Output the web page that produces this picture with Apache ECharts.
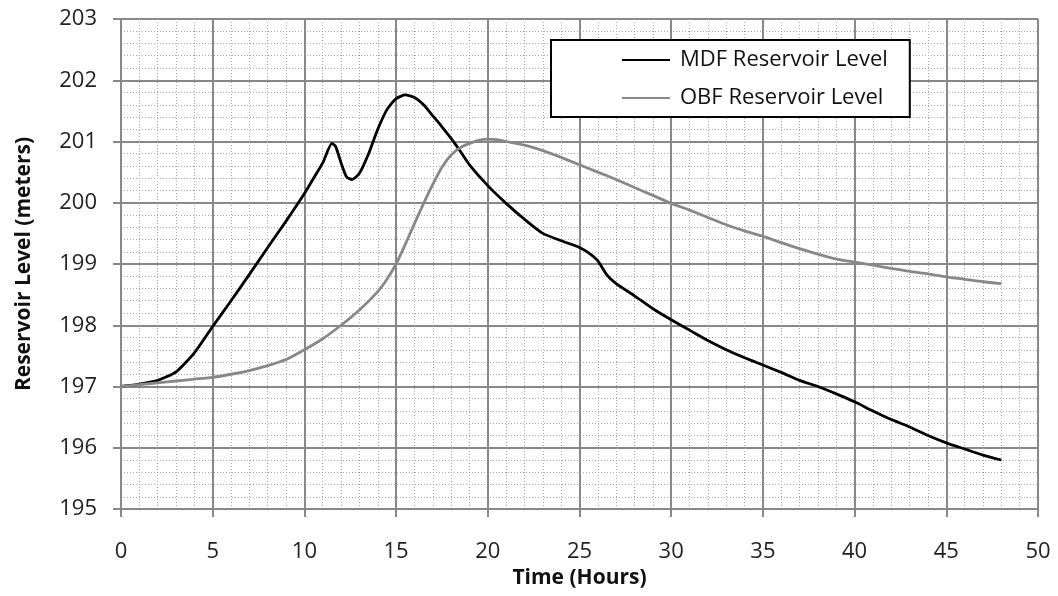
<!DOCTYPE html>
<html><head><meta charset="utf-8">
<script src="https://cdn.jsdelivr.net/npm/echarts@6/dist/echarts.min.js"></script>
<style>html,body{margin:0;padding:0;background:#fff}#c{width:1058px;height:596px}</style>
</head><body><div id="c"></div>
<script>
const mdfHours = [0,1,2,3,4,5,6,7,8,9,10,10.5,11,11.5,11.7,12,12.3,12.6,13,13.5,14,14.5,15,15.5,16,16.5,17,17.5,18,18.5,19,20,21,22,23,24,25,25.5,26,26.5,27,28,29,30,31,32,33,34,35,36,37,38,39,40,41,42,43,44,45,46,47,48];
const mdfLevels = [197.0,197.04,197.1,197.24,197.55,197.98,198.4,198.83,199.27,199.7,200.15,200.4,200.65,200.97,200.92,200.65,200.42,200.38,200.48,200.8,201.2,201.52,201.7,201.76,201.72,201.6,201.42,201.24,201.05,200.84,200.62,200.28,199.99,199.73,199.5,199.38,199.27,199.18,199.05,198.82,198.68,198.48,198.27,198.09,197.92,197.75,197.6,197.47,197.35,197.23,197.1,197.0,196.88,196.75,196.6,196.46,196.34,196.2,196.08,195.98,195.88,195.8];
const obfHours = [0,1,2,3,4,5,6,7,8,9,10,11,12,13,14,14.5,15,15.5,16,16.5,17,17.5,18,18.5,19,19.5,20,20.5,21,22,23,24,25,26,27,28,29,30,31,32,33,34,35,36,37,38,39,40,41,42,43,44,45,46,47,48];
const obfLevels = [197.0,197.03,197.06,197.09,197.12,197.15,197.2,197.26,197.34,197.44,197.6,197.78,198.0,198.25,198.55,198.75,199.0,199.32,199.66,199.99,200.3,200.58,200.78,200.9,200.97,201.02,201.04,201.03,201.0,200.94,200.85,200.74,200.62,200.5,200.38,200.25,200.12,199.99,199.88,199.76,199.64,199.54,199.45,199.35,199.25,199.16,199.08,199.03,198.98,198.93,198.88,198.84,198.79,198.75,198.71,198.68];
const seriesNames = ['MDF Reservoir Level','OBF Reservoir Level'];
const xTitle = 'Time (Hours)';
const yTitle = 'Reservoir Level (meters)';

const zip = (a,b) => a.map((v,i)=>[v,b[i]]);
const font = '"Open Sans", Lato, sans-serif';
const chart = echarts.init(document.getElementById('c'), null, {renderer:'canvas'});
const minorLine = {show:true,lineStyle:{color:'#a8a8a8',width:1,type:[1,2]}};
chart.setOption({
  animation:false,
  backgroundColor:'#fff',
  grid:{left:121,right:20,top:19,bottom:87,containLabel:false},
  legend:{
    data:seriesNames.map(n=>({name:n,icon:'rect'})), orient:'vertical', left:551, top:40,
    padding:[7,22,6,71], itemGap:12, itemWidth:48, itemHeight:2,
    borderColor:'#000', borderWidth:2, backgroundColor:'#fff',
    textStyle:{fontFamily:font,fontSize:22,color:'#111',lineHeight:26,padding:[0,0,0,5]}
  },
  xAxis:{
    type:'value', min:0, max:50, interval:5,
    name:xTitle, nameLocation:'middle', nameGap:59,
    nameTextStyle:{fontFamily:font,fontSize:21,fontWeight:'bold',color:'#111'},
    axisLine:{show:true,lineStyle:{color:'#888',width:2}},
    axisTick:{show:true,length:8,inside:false,lineStyle:{color:'#888',width:2}},
    axisLabel:{fontFamily:font,fontSize:22,color:'#222',margin:32},
    splitLine:{show:true,lineStyle:{color:'#888',width:2}},
    minorTick:{show:false,splitNumber:5},
    minorSplitLine:minorLine
  },
  yAxis:{
    type:'value', min:195, max:203, interval:1,
    name:yTitle, nameLocation:'middle', nameGap:86, nameRotate:90,
    nameTextStyle:{fontFamily:font,fontSize:21,fontWeight:'bold',color:'#111'},
    axisLine:{show:true,lineStyle:{color:'#888',width:2}},
    axisTick:{show:true,length:8,inside:false,lineStyle:{color:'#888',width:2}},
    axisLabel:{fontFamily:font,fontSize:22,color:'#222',margin:24},
    splitLine:{show:true,lineStyle:{color:'#888',width:2}},
    minorTick:{show:false,splitNumber:5},
    minorSplitLine:minorLine
  },
  series:[
    {name:seriesNames[0],type:'line',data:zip(mdfHours,mdfLevels),symbol:'none',smooth:0.2,
     lineStyle:{color:'#000',width:2.8},itemStyle:{color:'#000'}},
    {name:seriesNames[1],type:'line',data:zip(obfHours,obfLevels),symbol:'none',smooth:0.2,
     lineStyle:{color:'#888',width:2.8},itemStyle:{color:'#888'}}
  ]
});
</script></body></html>
